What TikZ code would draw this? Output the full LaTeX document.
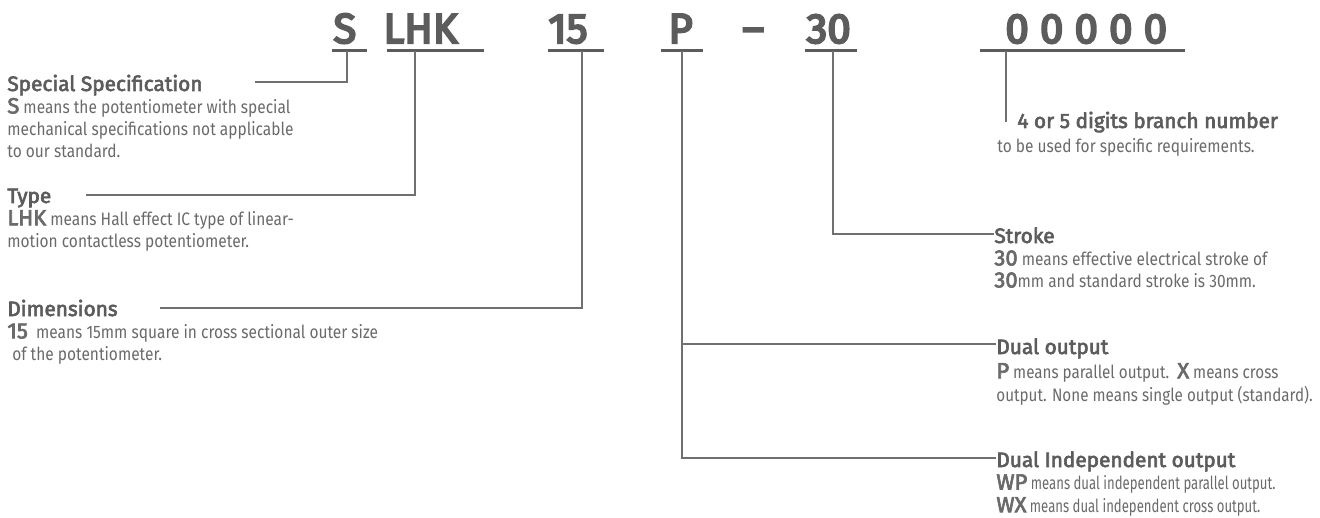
\documentclass[tikz,border=0pt]{standalone}
\usepackage{fontspec}
\setmainfont{Fira Sans}
\newfontfamily\bodyfont{Fira Sans}[FakeStretch=0.86]
\newfontfamily\tightfont{Fira Sans}[FakeStretch=0.845]
\newfontfamily\narrowfont{Fira Sans}[FakeStretch=0.73]
\newfontfamily\heavyfont{Fira Sans}[FakeBold=3]
\newfontfamily\codefont{Fira Sans}[FakeBold=5]
\usetikzlibrary{positioning}

\definecolor{ink}{HTML}{5C5C5C}
\definecolor{inklight}{HTML}{6A6A6A}
\definecolor{wiregray}{HTML}{707070}

\newcommand{\keyword}[1]{{\heavyfont\fontsize{11}{11}\selectfont #1}}

\begin{document}
\begin{tikzpicture}[x=0.5pt, y=-0.5pt,
    code/.style={anchor=base west, inner sep=0, text=ink,
      font=\codefont\fontsize{21}{21}\selectfont},
    bar/.style={draw=ink, line width=1.5pt},
    wire/.style={draw=wiregray, line width=0.55pt},
    title/.style={anchor=base west, inner sep=0, text=ink,
      font=\heavyfont\fontsize{10.4}{13}\selectfont},
    body/.style={anchor=north west, inner sep=0, align=left, text=inklight,
      font=\bodyfont\fontsize{9}{11}\selectfont},
    bodytight/.style={body, font=\tightfont\fontsize{9}{9.5}\selectfont},
    bodynarrow/.style={body, font=\narrowfont\fontsize{9}{9.2}\selectfont}
  ]
  \useasboundingbox (0,0) rectangle (1320,518);

  % code letters
  \node[code] (cS)   at (333,43)  {S};
  \node[code] (cLHK) at (383,43)  {LHK};
  \node[code] (c15)  at (548,43)  {15};
  \node[code] (cP)   at (668,43)  {P};
  \node[code] (cDash) at (742,43) {–};
  \node[code] (c30)  at (806,43)  {30};
  \node[code] (cNum) at (1005,43) {0 0 0 0 0};

  % underlines and their ticks
  \draw[bar] (332,51) -- (367,51);
  \draw[bar] (387,51) -- (484,51);
  \draw[bar] (548,51) -- (604,51);
  \draw[bar] (661,51) -- (703,51);
  \draw[bar] (805,51) -- (857,51);
  \draw[bar] (980,51) -- (1185,51);
  \coordinate (uS)   at (347,51);
  \coordinate (uLHK) at (415,51);
  \coordinate (u15)  at (582,51);
  \coordinate (uP)   at (682,51);
  \coordinate (u30)  at (833,51);
  \coordinate (uNum) at (1006,51);

  % left column
  \node[title] (tSpec) at (7,91)  {Special Specification};
  \node[body]  (bSpec) at (7,97.6) {\strut\keyword{S} means the potentiometer with special\\
    mechanical specifications not applicable\\ to our standard.};
  \node[title] (tType) at (7,203) {Type};
  \node[body]  (bType) at (7,209.6) {\strut\keyword{LHK} means Hall effect IC type of linear-\\
    motion contactless potentiometer.};
  \node[title] (tDim)  at (7,316) {Dimensions};
  \node[body]  (bDim)  at (7,322.6) {\strut\keyword{15}\ \ means 15mm square in cross sectional outer size\\
    \hspace*{2.5pt}of the potentiometer.};

  % right column
  \node[title] (tNum) at (1017,128) {4 or 5 digits branch number};
  \node[body]  (bNum) at (997,136.6) {\strut to be used for specific requirements.};
  \node[title] (tStroke) at (994,243) {Stroke};
  \node[body]  (bStroke) at (994,249.6) {\strut\keyword{30} means effective electrical stroke of\\
    \keyword{30}mm and standard stroke is 30mm.};
  \node[title] (tDual) at (996,354) {Dual output};
  \node[bodytight] (bDual) at (996,362.7) {\strut\keyword{P} means parallel output.\ \ \keyword{X} means cross\\
    output. None means single output (standard).};
  \node[title] (tIndep) at (996,467) {Dual Independent output};
  \node[bodynarrow] (bIndep) at (996,474) {\strut\keyword{WP} means dual independent parallel output.\\
    \keyword{WX} means dual independent cross output.};

  % ends of the left leaders
  \coordinate (eSpec) at (255,82);
  \coordinate (eType) at (86,195);
  \coordinate (eDim)  at (160,308);

  % leaders
  \draw[wire] (uS)   |- (eSpec);
  \draw[wire] (uLHK) |- (eType);
  \draw[wire] (u15)  |- (eDim);
  \draw[wire] (uNum) -- ++(0,71);
  \draw[wire] (u30)  |- ([yshift=4.5pt]tStroke.base west);
  \draw[wire] (uP)   |- ([yshift=4.5pt]tIndep.base west);
  \draw[wire] (uP |- tDual.base) ++(0,-10) -- ([yshift=5pt]tDual.base west);
\end{tikzpicture}
\end{document}
